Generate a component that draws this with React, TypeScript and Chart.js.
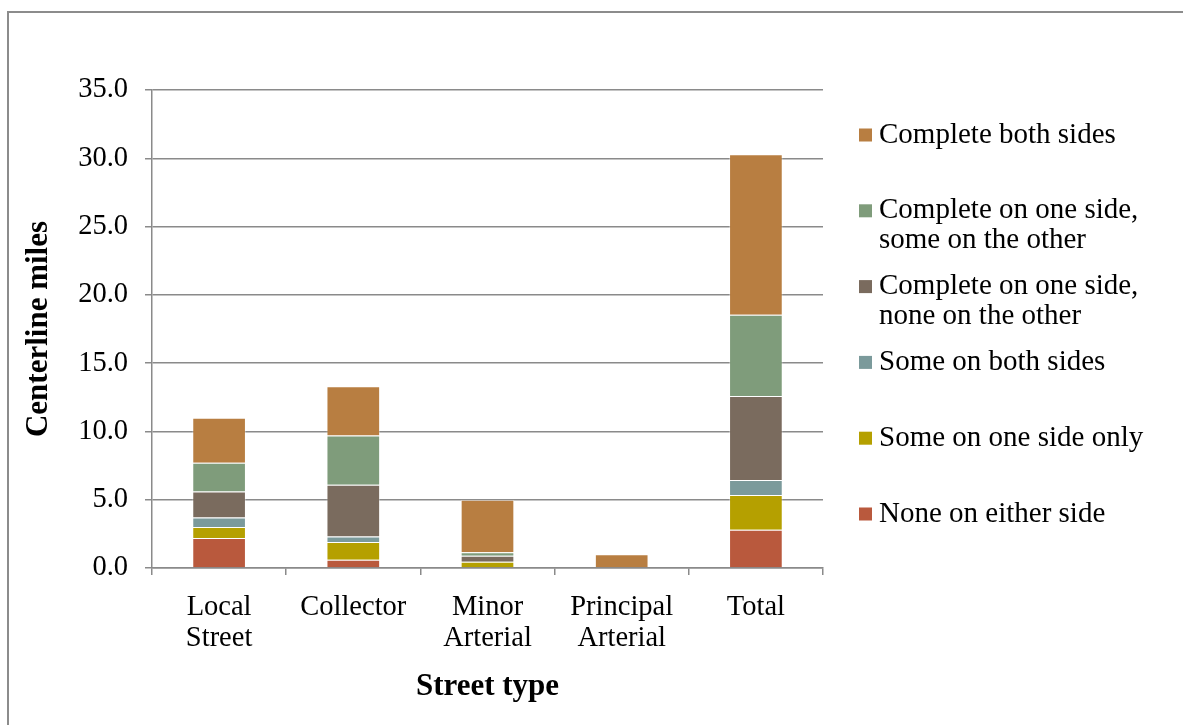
import React, { useEffect, useRef } from "react";
import { Chart, registerables } from "chart.js";

Chart.register(...registerables);

// ---- data ----
const categories: (string | string[])[] = [
  ["Local", "Street"],
  "Collector",
  ["Minor", "Arterial"],
  ["Principal", "Arterial"],
  "Total",
];

const seriesNames = [
  "None on either side",
  "Some on one side only",
  "Some on both sides",
  "Complete on one side, none on the other",
  "Complete on one side, some on the other",
  "Complete both sides",
];

const legendLines: string[][] = [
  ["None on either side"],
  ["Some on one side only"],
  ["Some on both sides"],
  ["Complete on one side,", "none on the other"],
  ["Complete on one side,", "some on the other"],
  ["Complete both sides"],
];

const noneEither = [2.2, 0.6, 0, 0, 2.8];
const someOneSide = [0.8, 1.3, 0.45, 0, 2.55];
const someBoth = [0.7, 0.4, 0, 0, 1.1];
const completeOneNone = [1.9, 3.8, 0.45, 0, 6.15];
const completeOneSome = [2.1, 3.6, 0.25, 0, 5.95];
const completeBoth = [3.3, 3.6, 3.85, 1.0, 11.75];

const seriesValues = [noneEither, someOneSide, someBoth, completeOneNone, completeOneSome, completeBoth];
const seriesColors = ["#B9593D", "#B5A000", "#7B9A9B", "#7A6B5E", "#7F9C7B", "#B87E41"];

const yMin = 0;
const yMax = 35;
const yStep = 5;

const axisTitleX = "Street type";
const axisTitleY = "Centerline miles";

const REG = "'Liberation Serif', 'Times New Roman', serif";
const GRID = "#8a8a8a";

const sideLegend = {
  id: "sideLegend",
  afterDraw(chart: any) {
    const ctx = chart.ctx as CanvasRenderingContext2D;
    ctx.save();
    ctx.font = `29px ${REG}`;
    ctx.textBaseline = "middle";
    ctx.textAlign = "left";
    const n = seriesNames.length;
    for (let k = 0; k < n; k++) {
      const di = n - 1 - k;
      const y = 135 + k * 75.8;
      ctx.fillStyle = seriesColors[di];
      ctx.fillRect(859, y - 6.5, 13, 13);
      ctx.fillStyle = "#000";
      legendLines[di].forEach((line, j) => {
        ctx.fillText(line, 879, y + j * 30);
      });
    }
    ctx.restore();
  },
};

export default function App() {
  const ref = useRef<HTMLCanvasElement | null>(null);

  useEffect(() => {
    if (!ref.current) return;
    const chart = new Chart(ref.current, {
      type: "bar",
      data: {
        labels: categories as any,
        datasets: seriesValues.map((vals, i) => ({
          label: seriesNames[i],
          data: vals,
          backgroundColor: seriesColors[i],
          borderColor: "rgba(255,255,255,0.35)",
          borderWidth: 1,
          barPercentage: 0.4,
          categoryPercentage: 1,
        })),
      },
      options: {
        responsive: false,
        animation: false,
        layout: { padding: { left: 16, top: 90, right: 360, bottom: 0 } },
        plugins: {
          legend: { display: false },
          tooltip: { enabled: false },
          title: { display: false },
        },
        scales: {
          x: {
            stacked: true,
            afterFit: (s: any) => {
              s.height = 157;
            },
            grid: {
              display: true,
              drawOnChartArea: false,
              drawTicks: true,
              tickLength: 7,
              color: GRID,
              lineWidth: 1.5,
            },
            border: { display: true, color: GRID, width: 1.5 },
            ticks: {
              color: "#000",
              font: { family: REG, size: 28.5, lineHeight: 1.09 },
              padding: 17,
              maxRotation: 0,
              autoSkip: false,
            },
            title: {
              display: true,
              text: axisTitleX,
              color: "#000",
              font: { family: REG, size: 31, weight: "bold", lineHeight: 1.2 },
              padding: { top: 4, bottom: 19 },
            },
          },
          y: {
            stacked: true,
            min: yMin,
            max: yMax,
            afterFit: (s: any) => {
              s.width = 136;
            },
            grid: {
              color: GRID,
              lineWidth: 1.5,
              tickLength: 7,
              drawTicks: true,
            },
            border: { display: true, color: GRID, width: 1.5 },
            ticks: {
              stepSize: yStep,
              color: "#000",
              font: { family: REG, size: 28.5 },
              padding: 17,
              callback: (v: any) => Number(v).toFixed(1),
            },
            title: {
              display: true,
              text: axisTitleY,
              color: "#000",
              font: { family: REG, size: 31, weight: "bold", lineHeight: 1.2 },
              padding: { top: 4, bottom: 4 },
            },
          },
        },
      },
      plugins: [sideLegend],
    });
    return () => chart.destroy();
  }, []);

  return (
    <div style={{ position: "absolute", left: 0, top: 0, width: 1183, height: 725, background: "#fff", overflow: "hidden" }}>
      <div
        style={{
          position: "absolute",
          left: 7,
          top: 11,
          width: 1176,
          height: 714,
          borderLeft: "2px solid #8c8c8c",
          borderTop: "2px solid #8c8c8c",
          boxSizing: "border-box",
        }}
      />
      <canvas ref={ref} width={1183} height={725} style={{ position: "absolute", left: 0, top: 0 }} />
    </div>
  );
}
